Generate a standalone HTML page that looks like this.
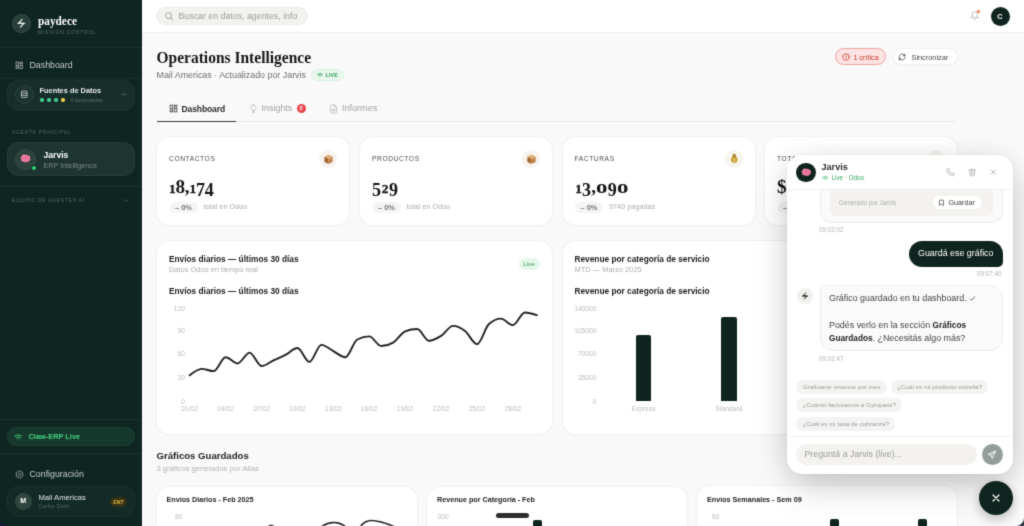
<!DOCTYPE html>
<html lang="es">
<head>
<meta charset="utf-8">
<title>Operations Intelligence</title>
<style>
*{box-sizing:border-box;margin:0;padding:0}
html,body{width:1024px;height:526px;overflow:hidden;background:#f9f9f9;font-family:"Liberation Sans",sans-serif;color:#1a1a1a}
.abs,#app div,#app svg,#app span{position:absolute}
#app{position:relative;width:1024px;height:526px;overflow:hidden}
#app #blur{left:-8px;top:-8px;width:1040px;height:542px;filter:url(#soft);background:#f9f9f9}
#app #in{left:8px;top:8px;width:1024px;height:526px}
.t{white-space:nowrap}
/* sidebar */
#side{left:-8px;top:-8px;width:150px;height:542px;background:#0f2521}
.hr{left:-8px;width:150px;height:1px;background:#1a302b}
.nav{font-size:8.8px;color:#c3cbc8;line-height:11px;white-space:nowrap}
.sec{left:12px;font-size:5px;letter-spacing:0.7px;color:#55675f;white-space:nowrap;line-height:6px}
/* cards */
.card{background:#fff;border-radius:13px;box-shadow:0 0 0 1px #f1f1f1,0 1px 3px rgba(0,0,0,.04)}
.lbl{font-size:6.7px;letter-spacing:0.56px;color:#4d4d4d;white-space:nowrap;line-height:8px}
.num{font-family:"Liberation Serif",serif;font-weight:bold;font-size:19.2px;color:#141414;line-height:20px;white-space:nowrap}
#app .num span{position:relative;line-height:1px}
.num .s{font-size:13.3px;-webkit-text-stroke:.3px #141414}
.num .o{font-size:19px;display:inline-block;transform:scaleX(1.2);margin:0 1px}
.num .d{font-size:18px;top:2.9px}
.num .c{font-size:19px}
.bdg{height:11px;border-radius:6px;background:#f4f4f4;font-size:7.5px;font-weight:bold;color:#787878;line-height:11px;text-align:center;white-space:nowrap}
.mut{font-size:7.3px;color:#adadad;white-space:nowrap;line-height:8px}
.ico{width:18px;height:18px;border-radius:50%;background:#f7f3ef}
.ct{font-size:8.3px;font-weight:bold;color:#1c1c1c;white-space:nowrap;line-height:10px}
.ax{font-size:6.7px;color:#bcbcbc;white-space:nowrap;line-height:7px}
.axr{text-align:right;width:30px}
.axc{text-align:center;width:40px}
.chip{height:14px;border-radius:7px;background:#f3f3f1;font-size:6.25px;color:#9c9c9c;line-height:14px;text-align:center;white-space:nowrap}
.ts{font-size:6.3px;color:#b4b4b4;white-space:nowrap;line-height:7px}
</style>
</head>
<body>
<svg width="0" height="0" style="position:absolute"><defs><filter id="soft" x="0" y="0" width="100%" height="100%" color-interpolation-filters="sRGB"><feConvolveMatrix order="3" kernelMatrix="0.01917 0.10012 0.01917 0.10012 0.52283 0.10012 0.01917 0.10012 0.01917" edgeMode="duplicate" preserveAlpha="true"/></filter></defs></svg>
<div id="app">
<div id="blur">
<div id="in">

<!-- ================= MAIN BG ================= -->
<div style="left:142px;top:33px;width:890px;height:501px;background:#f9f9f9"></div>

<!-- ================= TOPBAR ================= -->
<div style="left:142px;top:-8px;width:890px;height:40.500px;background:#fff;border-bottom:1px solid #efefef"></div>
<div style="left:156px;top:7px;width:152px;height:18px;border-radius:9px;background:#f2f2f0;border:1px solid #ececea"></div>
<svg style="left:163.500px;top:11px" width="10" height="10" viewBox="0 0 24 24" fill="none" stroke="#b0b0ae" stroke-width="2.6" stroke-linecap="round"><circle cx="11" cy="11" r="7"/><path d="M21 21l-4.5-4.5"/></svg>
<div class="t" style="left:178.5px;top:10.5px;font-size:8.8px;color:#9c9c9a;line-height:11px">Buscar en datos, agentes, info</div>
<svg style="left:969.500px;top:11px" width="9.500" height="9.500" viewBox="0 0 24 24" fill="none" stroke="#a3a3a3" stroke-width="1.8" stroke-linecap="round" stroke-linejoin="round"><path d="M6 8a6 6 0 0 1 12 0c0 7 3 9 3 9H3s3-2 3-9"/><path d="M10.3 21a1.9 1.9 0 0 0 3.4 0"/></svg>
<div style="left:976.500px;top:9.500px;width:3.500px;height:3.500px;border-radius:50%;background:#f0703a"></div>
<div style="left:990.5px;top:6.5px;width:19px;height:19px;border-radius:50%;background:#10241f;color:#fff;font-size:7.4px;font-weight:bold;text-align:center;line-height:19px">C</div>

<!-- ================= HEADER ================= -->
<div class="t" style="left:156.5px;top:47.7px;font-family:'Liberation Serif',serif;font-weight:bold;font-size:15.5px;line-height:20px;color:#151515;transform-origin:0 80%;transform:scaleY(1.08)">Operations Intelligence</div>
<div class="t" style="left:156.5px;top:69.5px;font-size:8.9px;line-height:11px;color:#707070">Mail Americas · Actualizado por Jarvis</div>
<div style="left:311px;top:69px;width:33px;height:12px;border-radius:6px;background:#e9f8ee;border:1px solid #dcf2e3"></div>
<svg style="left:316.5px;top:72px" width="6" height="6" viewBox="0 0 24 24" fill="none" stroke="#2d9a57" stroke-width="3.2" stroke-linecap="round"><path d="M2 9a15 15 0 0 1 20 0"/><path d="M6 13.5a9 9 0 0 1 12 0"/><path d="M12 19h.01"/></svg>
<div class="t" style="left:325.5px;top:71.8px;font-size:5.4px;font-weight:bold;color:#2d9a57;line-height:7px;letter-spacing:0.1px">LIVE</div>

<!-- header buttons -->
<div style="left:835px;top:48.2px;width:51px;height:17.3px;border-radius:8.5px;background:#fde3e3;border:1px solid #eda3a3"></div>
<svg style="left:841.5px;top:53px" width="8" height="8" viewBox="0 0 24 24" fill="none" stroke="#c4453c" stroke-width="2.4" stroke-linecap="round"><circle cx="12" cy="12" r="10"/><path d="M12 7v6"/><path d="M12 17h.01"/></svg>
<div class="t" style="left:853.5px;top:52.5px;font-size:7.2px;color:#c0392b;line-height:9px">1 crítica</div>
<div style="left:893px;top:48.2px;width:64.5px;height:17.3px;border-radius:8.5px;background:#fff;border:1px solid #f0f0f0;box-shadow:0 1px 2px rgba(0,0,0,.03)"></div>
<svg style="left:898px;top:53px" width="8" height="8" viewBox="0 0 24 24" fill="none" stroke="#555" stroke-width="2.4" stroke-linecap="round" stroke-linejoin="round"><path d="M3 12a9 9 0 0 1 15-6.7L21 8"/><path d="M21 3v5h-5"/><path d="M21 12a9 9 0 0 1-15 6.7L3 16"/><path d="M3 21v-5h5"/></svg>
<div class="t" style="left:911.5px;top:52.5px;font-size:7.35px;color:#4a4a4a;line-height:9px">Sincronizar</div>

<!-- ================= TABS ================= -->
<div style="left:156.5px;top:121px;width:800.5px;height:1px;background:#ebebeb"></div>
<div style="left:156.5px;top:120.700px;width:79.5px;height:1.200px;background:#3a3a3a"></div>
<svg style="left:168.5px;top:104px" width="9" height="9" viewBox="0 0 24 24" fill="none" stroke="#333" stroke-width="2" stroke-linejoin="miter"><rect x="3" y="3" width="7" height="9"/><rect x="14" y="3" width="7" height="5"/><rect x="14" y="12" width="7" height="9"/><rect x="3" y="16" width="7" height="5"/></svg>
<div class="t" style="left:181.5px;top:103.5px;font-size:8.5px;color:#2a2a2a;line-height:11px;font-weight:bold;letter-spacing:-0.1px">Dashboard</div>
<svg style="left:248.5px;top:103.5px" width="9" height="10" viewBox="0 0 24 26" fill="none" stroke="#b5b5b5" stroke-width="2" stroke-linecap="round" stroke-linejoin="round"><path d="M9 18h6"/><path d="M10 22h4"/><path d="M12 2a7 7 0 0 0-4 12.7c.6.5 1 1.300 1 2.300h6c0-1 .4-1.800 1-2.300A7 7 0 0 0 12 2z"/></svg>
<div class="t" style="left:261.5px;top:103px;font-size:8.95px;color:#a3a3a3;line-height:11px">Insights</div>
<div style="left:296.500px;top:104px;width:9px;height:9px;border-radius:50%;background:#e5484d;color:#fff;font-size:5.5px;font-weight:bold;line-height:9px;text-align:center">2</div>
<svg style="left:329px;top:103.5px" width="9" height="10" viewBox="0 0 24 26" fill="none" stroke="#b5b5b5" stroke-width="2" stroke-linecap="round" stroke-linejoin="round"><path d="M14 2H6a2 2 0 0 0-2 2v18a2 2 0 0 0 2 2h12a2 2 0 0 0 2-2V8z"/><path d="M14 2v6h6"/><path d="M8 14h8"/><path d="M8 18h8"/></svg>
<div class="t" style="left:342px;top:103px;font-size:9.050px;color:#a3a3a3;line-height:11px">Informes</div>

<!-- ================= KPI CARDS ================= -->
<div class="card" style="left:157px;top:137px;width:192px;height:88px"></div>
<div class="lbl" style="left:169px;top:154.5px">CONTACTOS</div>
<div class="ico" style="left:319px;top:149.5px"></div>
<svg style="left:323.5px;top:153.5px" width="9" height="10.500" viewBox="0 0 10 11"><path d="M5 .4L9.600 2.800 5 5.200.4 2.800z" fill="#d9a565"/><path d="M.4 2.800L5 5.200V10.700L.4 8.300z" fill="#a3652b"/><path d="M9.600 2.800L5 5.200V10.700L9.600 8.300z" fill="#c08040"/><path d="M2.600 1.600L7.200 4v1.800" stroke="#e9c99b" stroke-width=".7" fill="none"/></svg>
<div class="num" style="left:169px;top:177px;letter-spacing:-0.2px"><span class="s">1</span><span class="t">8</span><span class="c">,</span><span class="s">1</span><span class="d">7</span><span class="d">4</span></div>
<div class="bdg" style="left:169.5px;top:201.5px;width:28px">– 0%</div>
<div class="mut" style="left:203.5px;top:203px">total en Odoo</div>

<div class="card" style="left:360px;top:137px;width:192px;height:88px"></div>
<div class="lbl" style="left:372px;top:154.5px">PRODUCTOS</div>
<div class="ico" style="left:522px;top:149.5px"></div>
<svg style="left:526.5px;top:153.5px" width="9" height="10.500" viewBox="0 0 10 11"><path d="M5 .4L9.600 2.800 5 5.200.4 2.800z" fill="#d9a565"/><path d="M.4 2.800L5 5.200V10.700L.4 8.300z" fill="#a3652b"/><path d="M9.600 2.800L5 5.200V10.700L9.600 8.300z" fill="#c08040"/><path d="M2.600 1.600L7.200 4v1.800" stroke="#e9c99b" stroke-width=".7" fill="none"/></svg>
<div class="num" style="left:372px;top:177px;letter-spacing:0.7px"><span class="d">5</span><span class="s">2</span><span class="d">9</span></div>
<div class="bdg" style="left:372.5px;top:201.5px;width:28px">– 0%</div>
<div class="mut" style="left:406.5px;top:203px">total en Odoo</div>

<div class="card" style="left:562.5px;top:137px;width:192px;height:88px"></div>
<div class="lbl" style="left:574.5px;top:154.5px">FACTURAS</div>
<div class="ico" style="left:724.5px;top:149.5px;background:#f7f5ee"></div>
<svg style="left:729.5px;top:153.3px" width="8.500" height="10.500" viewBox="0 0 10 12"><path d="M3 4C.2 6 .2 11.500 5 11.500S9.800 6 7 4z" fill="#c8a034"/><path d="M3.200 1h3.600L6.300 3.600H3.700z" fill="#a98524"/><path d="M2.800 3.600h4.400v1H2.800z" fill="#8a6a18"/><path d="M5 5.800v4M6 6.800c-.8-.6-2-.3-2 .5s2 .6 2 1.500-1.300 1-2.100.4" stroke="#f3e3a3" stroke-width=".6" fill="none"/></svg>
<div class="num" style="left:575.3px;top:177px;letter-spacing:0.15px"><span class="s">1</span><span class="d">3</span><span class="c">,</span><span class="o">o</span><span class="d">9</span><span class="o">o</span></div>
<div class="bdg" style="left:575px;top:201.5px;width:28px">– 0%</div>
<div class="mut" style="left:609px;top:203px">9740 pagadas</div>

<div class="card" style="left:765px;top:137px;width:192px;height:88px"></div>
<div class="lbl" style="left:777px;top:154.5px">TOTAL FACTURADO</div>
<div class="ico" style="left:927px;top:149.5px;background:#f3f4ee"></div>
<div class="num" style="left:777px;top:177px;letter-spacing:0px"><span class="t">$</span></div>
<div class="bdg" style="left:777.5px;top:201.5px;width:28px">– 0%</div>

<!-- ================= LINE CHART CARD ================= -->
<div class="card" style="left:157px;top:240.5px;width:395px;height:193px"></div>
<div class="ct" style="left:169px;top:253.5px">Envíos diarios — últimos 30 días</div>
<div class="mut" style="left:169px;top:266px;font-size:7.45px">Datos Odoo en tiempo real</div>
<div style="left:518.5px;top:258px;width:21px;height:11.5px;border-radius:6px;background:#e4f8ea"></div>
<div class="t" style="left:523.300px;top:260.300px;font-size:6.2px;color:#2f9e5a;line-height:7px">Live</div>
<div class="ct" style="left:169px;top:285.5px">Envíos diarios — últimos 30 días</div>
<div class="ax axr" style="left:155px;top:304.5px">120</div>
<div class="ax axr" style="left:155px;top:327px">90</div>
<div class="ax axr" style="left:155px;top:350px">60</div>
<div class="ax axr" style="left:155px;top:374px">30</div>
<div class="ax axr" style="left:155px;top:397.5px">0</div>
<svg style="left:0;top:0" width="1024" height="526" viewBox="0 0 1024 526" fill="none"><path d="M189.70,375.33C193.69,372.09 197.68,368.85 201.67,368.85C205.66,368.85 209.65,371.16 213.64,371.16C217.63,371.16 221.62,357.27 225.61,357.27C229.60,357.27 233.59,363.44 237.58,363.44C241.57,363.44 245.56,352.64 249.55,352.64C253.54,352.64 257.53,366.07 261.52,366.07C265.51,366.07 269.50,362.21 273.49,360.36C277.48,358.50 281.47,357.01 285.46,354.95C289.45,352.89 293.44,348.00 297.43,348.00C301.42,348.00 305.41,361.90 309.40,361.90C313.39,361.90 317.38,344.92 321.37,344.92C325.36,344.92 329.35,349.03 333.34,351.09C337.33,353.15 341.32,357.27 345.31,357.27C349.30,357.27 353.29,341.57 357.28,339.51C361.27,337.45 365.26,336.42 369.25,336.42C373.24,336.42 377.23,346.07 381.22,346.07C385.21,346.07 389.20,344.92 393.19,342.60C397.18,340.28 401.17,332.87 405.16,331.33C409.15,329.78 413.14,329.01 417.13,329.01C421.12,329.01 425.11,340.82 429.10,340.82C433.09,340.82 437.08,338.37 441.07,335.88C445.06,333.40 449.05,325.92 453.04,325.92C457.03,325.92 461.02,327.98 465.01,331.02C469.00,334.06 472.99,344.14 476.98,344.14C480.97,344.14 484.96,327.67 488.95,324.07C492.94,320.47 496.93,318.67 500.92,318.67C504.91,318.67 508.90,325.15 512.89,325.15C516.88,325.15 520.87,312.49 524.86,312.49C528.85,312.49 532.84,313.84 536.83,315.19" stroke="#1e2120" stroke-width="1.9" stroke-linecap="round" stroke-linejoin="round"/></svg>
<div class="ax axc" style="left:169.7px;top:405px">01/02</div>
<div class="ax axc" style="left:205.6px;top:405px">04/02</div>
<div class="ax axc" style="left:241.5px;top:405px">07/02</div>
<div class="ax axc" style="left:277.4px;top:405px">10/02</div>
<div class="ax axc" style="left:313.3px;top:405px">13/02</div>
<div class="ax axc" style="left:349.2px;top:405px">16/02</div>
<div class="ax axc" style="left:385.2px;top:405px">19/02</div>
<div class="ax axc" style="left:421.1px;top:405px">22/02</div>
<div class="ax axc" style="left:457.0px;top:405px">25/02</div>
<div class="ax axc" style="left:492.9px;top:405px">28/02</div>


<!-- ================= BAR CHART CARD ================= -->
<div class="card" style="left:562.5px;top:240.5px;width:394.5px;height:193px"></div>
<div class="ct" style="left:574.5px;top:253.5px">Revenue por categoría de servicio</div>
<div class="mut" style="left:574.5px;top:266px;font-size:7.45px">MTD — Marzo 2025</div>
<div class="ct" style="left:574.5px;top:285.5px">Revenue por categoría de servicio</div>
<div class="ax axr" style="left:566.5px;top:304.5px">140000</div>
<div class="ax axr" style="left:566.5px;top:326.5px">105000</div>
<div class="ax axr" style="left:566.5px;top:350px">70000</div>
<div class="ax axr" style="left:566.5px;top:374px">35000</div>
<div class="ax axr" style="left:566.5px;top:398px">0</div>
<div style="left:636px;top:334.5px;width:15px;height:66.5px;background:#10241f;border-radius:2px 2px 0 0"></div>
<div style="left:721px;top:316.5px;width:15.5px;height:84.5px;background:#10241f;border-radius:2px 2px 0 0"></div>
<div style="left:806px;top:352px;width:15.5px;height:49px;background:#10241f;border-radius:2px 2px 0 0"></div>
<div style="left:891px;top:366px;width:15.5px;height:35px;background:#10241f;border-radius:2px 2px 0 0"></div>
<div class="ax axc" style="left:623.5px;top:405px">Express</div>
<div class="ax axc" style="left:708.8px;top:405px">Standard</div>

<!-- ================= SAVED CHARTS ================= -->
<div class="t" style="left:156.5px;top:449.5px;font-size:9.6px;font-weight:bold;color:#1f1f1f;line-height:12px">Gráficos Guardados</div>
<div class="t" style="left:156.5px;top:464.5px;font-size:7.6px;color:#b4b4b4;line-height:8px">3 gráficos generados por Atlas</div>

<div class="card" style="left:157px;top:486.5px;width:259.5px;height:60px"></div>
<div class="t" style="left:166.5px;top:495px;font-size:7.2px;font-weight:bold;color:#222;line-height:9px">Envíos Diarios - Feb 2025</div>
<div class="ax" style="left:175px;top:513px">80</div>
<svg style="left:0;top:0" width="1024" height="526" viewBox="0 0 1024 526" fill="none" stroke="#1c1f1e" stroke-width="1.7" stroke-linecap="round"><path d="M268,527C269,526 270,525.500 271,525.500C272,525.500 273,526 274,527"/><path d="M321,527C325,524 329,522.500 334,522.500C339,522.500 343,524.500 346,527"/><path d="M360,527C363,523 367,520.500 371,520.500C378,520.500 388,524 395,527"/></svg>

<div class="card" style="left:427.3px;top:486.5px;width:259.5px;height:60px"></div>
<div class="t" style="left:437px;top:495px;font-size:7.2px;font-weight:bold;color:#222;line-height:9px">Revenue por Categoría - Feb</div>
<div class="ax" style="left:437.500px;top:513px">000</div>
<div style="left:495.5px;top:512.5px;width:33px;height:5px;border-radius:2.5px;background:#2b2d2c"></div>
<div style="left:533px;top:520px;width:8.5px;height:10px;background:#10241f;border-radius:2px 2px 0 0"></div>

<div class="card" style="left:697.3px;top:486px;width:260px;height:60px"></div>
<div class="t" style="left:707px;top:495px;font-size:7.2px;font-weight:bold;color:#222;line-height:9px">Envíos Semanales - Sem 09</div>
<div class="ax" style="left:712px;top:513px">60</div>
<div style="left:830.3px;top:519px;width:9px;height:10px;background:#10241f;border-radius:2px 2px 0 0"></div>
<div style="left:918.3px;top:519px;width:9px;height:10px;background:#10241f;border-radius:2px 2px 0 0"></div>

<!-- ================= SIDEBAR ================= -->
<div id="side"></div>
<div style="left:137.500px;top:-8px;width:1px;height:542px;background:#122b26"></div>
<div style="left:11.5px;top:13.5px;width:19.5px;height:19.5px;border-radius:50%;background:#273d38;border:1px solid #384e49"></div>
<svg style="left:16px;top:18px" width="10.500" height="10.500" viewBox="0 0 24 24" fill="none" stroke="#e9eeec" stroke-width="2.6" stroke-linecap="round" stroke-linejoin="round"><path d="M14 3L6 12h6"/><path d="M10 21l8-9h-6"/><path d="M4 12h16"/></svg>
<div class="t" style="left:38px;top:13.800px;font-family:'Liberation Serif',serif;font-weight:bold;font-size:11.3px;color:#fff;line-height:14px;transform-origin:0 85%;transform:scaleY(1.16)">paydece</div>
<div class="t" style="left:38px;top:29px;font-size:5.1px;letter-spacing:0.72px;color:#596b66;line-height:6px">MISSION CONTROL</div>
<div class="hr" style="top:47px"></div>
<svg style="left:15px;top:61px" width="8.500" height="8.500" viewBox="0 0 24 24" fill="none" stroke="#b8c1be" stroke-width="2" stroke-linejoin="miter"><rect x="3" y="3" width="7" height="9"/><rect x="14" y="3" width="7" height="5"/><rect x="14" y="12" width="7" height="9"/><rect x="3" y="16" width="7" height="5"/></svg>
<div class="nav" style="left:29.5px;top:59.800px">Dashboard</div>
<div class="hr" style="top:77.5px"></div>

<div style="left:7px;top:79.5px;width:128px;height:31px;border-radius:12px;background:#182e2a;border:1px solid #21373280"></div>
<div style="left:15px;top:85px;width:18.5px;height:18.5px;border-radius:50%;background:#21373280;border:1px solid #2b413c"></div>
<svg style="left:20px;top:90px" width="8.500" height="8.500" viewBox="0 0 24 24" fill="none" stroke="#d3dad8" stroke-width="2.2" stroke-linejoin="round"><rect x="4" y="3" width="16" height="18" rx="2"/><path d="M4 9h16M4 15h16"/></svg>
<div class="t" style="left:39.5px;top:85.600px;font-size:7.4px;color:#e6eae9;line-height:10px;font-weight:bold">Fuentes de Datos</div>
<div style="left:40px;top:98.300px;width:3.500px;height:3.500px;border-radius:50%;background:#3fcf8e"></div>
<div style="left:47px;top:98.300px;width:3.500px;height:3.500px;border-radius:50%;background:#3fcf8e"></div>
<div style="left:54px;top:98.300px;width:3.500px;height:3.500px;border-radius:50%;background:#3fcf8e"></div>
<div style="left:61px;top:98.300px;width:3.500px;height:3.500px;border-radius:50%;background:#f0d050"></div>
<div class="t" style="left:70px;top:97px;font-size:5.5px;color:#5c6e69;line-height:6px">4 conectadas</div>
<svg style="left:119.5px;top:91px" width="7" height="7" viewBox="0 0 24 24" fill="none" stroke="#4d5f5a" stroke-width="2.4" stroke-linecap="round" stroke-linejoin="round"><path d="M4 12h16"/><path d="M13 5l7 7-7 7"/></svg>

<div class="sec" style="top:128.700px">AGENTE PRINCIPAL</div>
<div style="left:7px;top:141.5px;width:128px;height:34.5px;border-radius:11.500px;background:#1e3430;border:1px solid #283e3a"></div>
<div style="left:15px;top:148.500px;width:21px;height:21px;border-radius:50%;background:#2c423d;border:1px solid #364c47"></div>
<svg style="left:20px;top:154px" width="11" height="9.17" viewBox="0 0 12 10"><path d="M6 1.200C4.600 0 2.300.6 2.100 2.400.6 2.900.3 4.900 1.400 5.900 1.200 7.600 2.800 8.700 4.200 8.300c.6 1 1.800 1.100 2.400.4 1 .6 2.600.2 3-1 1.400-.2 2.200-1.800 1.400-3 .6-1.400-.4-3-2-3C8.400.7 6.800.4 6 1.200z" fill="#ef7fa3"/><path d="M6 1.500v6.800M3.400 3.200c.8-.2 1.500.2 1.700.9M2.600 6c.8.300 1.700 0 2-.7M8.600 3.200c-.8-.2-1.500.2-1.700.9M9.400 6c-.8.300-1.700 0-2-.7" stroke="#d4567f" stroke-width=".55" fill="none" stroke-linecap="round"/><path d="M3 1.800C3.800 1.200 5 1.200 5.500 1.700" stroke="#f9b6cb" stroke-width=".6" fill="none" stroke-linecap="round"/></svg>
<div style="left:31.300px;top:165.200px;width:6px;height:6px;border-radius:50%;background:#34d37c;border:1.2px solid #0f2521"></div>
<div class="t" style="left:43.5px;top:148.500px;font-size:8.6px;font-weight:bold;color:#fff;line-height:12px">Jarvis</div>
<div class="t" style="left:43.5px;top:160.500px;font-size:7.25px;color:#7b8a86;line-height:9px">ERP Intelligence</div>
<div class="hr" style="top:185.5px"></div>
<div class="sec" style="top:196.5px">EQUIPO DE AGENTES AI</div>
<svg style="left:123px;top:196.500px" width="7" height="7" viewBox="0 0 24 24" fill="none" stroke="#4d5f5a" stroke-width="2.6" stroke-linecap="round" stroke-linejoin="round"><path d="M6 9l6 6 6-6"/></svg>

<div class="hr" style="top:419px"></div>
<div style="left:7px;top:427px;width:127.500px;height:19px;border-radius:9.500px;background:#16382c;border:1px solid #1b4233"></div>
<svg style="left:14px;top:432.500px" width="8.500" height="8.500" viewBox="0 0 24 24" fill="none" stroke="#3fd07f" stroke-width="2.8" stroke-linecap="round"><path d="M2 9a15 15 0 0 1 20 0"/><path d="M6 13.5a9 9 0 0 1 12 0"/><path d="M12 19h.01"/></svg>
<div class="t" style="left:28.500px;top:432px;font-size:7.4px;font-weight:bold;color:#45d383;line-height:9px">Claw-ERP Live</div>
<div class="hr" style="top:453px"></div>
<svg style="left:14.500px;top:469.500px" width="9" height="9" viewBox="0 0 24 24" fill="none" stroke="#9aa6a2" stroke-width="2.200" stroke-linejoin="round"><path d="M12 2l8.500 5v10L12 22l-8.500-5V7z"/><circle cx="12" cy="12" r="3.200"/></svg>
<div class="nav" style="left:29.5px;top:468.500px">Configuración</div>
<div style="left:7px;top:485.5px;width:128px;height:31.5px;border-radius:12px;background:#132a26;border:1px solid #1b322d"></div>
<div style="left:15px;top:493px;width:16.500px;height:16.500px;border-radius:50%;background:#31453f"></div>
<div class="t" style="left:15px;top:493px;width:16.500px;text-align:center;font-size:7.2px;font-weight:bold;color:#fff;line-height:16.500px">M</div>
<div class="t" style="left:38.500px;top:492.5px;font-size:7.6px;color:#dfe5e3;line-height:9px">Mail Americas</div>
<div class="t" style="left:38.500px;top:503px;font-size:5.7px;color:#53645f;line-height:7px">Carlos Diehl</div>
<div style="left:110px;top:496.500px;width:17px;height:10.500px;border-radius:5px;background:#363117"></div>
<div class="t" style="left:110px;top:496.500px;width:17px;text-align:center;font-size:5.2px;font-weight:bold;color:#e0b93d;line-height:10.500px">ENT</div>

<!-- ================= CHAT PANEL ================= -->
<div style="left:787px;top:155px;width:225.5px;height:319px;border-radius:15px;background:#fff;box-shadow:0 14px 40px -5px rgba(0,0,0,.2),0 4px 28px rgba(0,0,0,.09),0 0 0 1px rgba(0,0,0,.025);overflow:hidden" id="chat"></div>
<!-- header -->
<div style="left:787.5px;top:189px;width:225px;height:1px;background:#f0f0f0"></div>
<div style="left:796px;top:162.500px;width:19.500px;height:19.500px;border-radius:50%;background:#10241f"></div>
<svg style="left:800.5px;top:167.5px" width="10.5" height="8.75" viewBox="0 0 12 10"><path d="M6 1.200C4.600 0 2.300.6 2.100 2.400.6 2.900.3 4.900 1.400 5.900 1.200 7.600 2.800 8.700 4.200 8.300c.6 1 1.800 1.100 2.400.4 1 .6 2.600.2 3-1 1.400-.2 2.200-1.800 1.400-3 .6-1.400-.4-3-2-3C8.400.7 6.800.4 6 1.200z" fill="#ef7fa3"/><path d="M6 1.500v6.800M3.400 3.200c.8-.2 1.500.2 1.700.9M2.600 6c.8.300 1.700 0 2-.7M8.600 3.200c-.8-.2-1.500.2-1.700.9M9.400 6c-.8.300-1.700 0-2-.7" stroke="#d4567f" stroke-width=".55" fill="none" stroke-linecap="round"/><path d="M3 1.800C3.800 1.200 5 1.200 5.500 1.700" stroke="#f9b6cb" stroke-width=".6" fill="none" stroke-linecap="round"/></svg>
<div class="t" style="left:821.5px;top:161px;font-size:9.1px;font-weight:bold;color:#2a2a2a;line-height:12px">Jarvis</div>
<svg style="left:822px;top:174.500px" width="6.500" height="6.500" viewBox="0 0 24 24" fill="none" stroke="#36b36a" stroke-width="2.8" stroke-linecap="round"><path d="M2 9a15 15 0 0 1 20 0"/><path d="M6 13.5a9 9 0 0 1 12 0"/><path d="M12 19h.01"/></svg>
<div class="t" style="left:831.5px;top:174px;font-size:6.3px;color:#36a964;line-height:8px">Live · Odoo</div>
<svg style="left:946px;top:168px" width="8.500" height="8.500" viewBox="0 0 24 24" fill="none" stroke="#9c9c9c" stroke-width="1.800" stroke-linecap="round" stroke-linejoin="round"><path d="M22 16.900v3a2 2 0 0 1-2.200 2 19.800 19.800 0 0 1-8.600-3.100 19.500 19.500 0 0 1-6-6A19.800 19.800 0 0 1 2.100 4.200 2 2 0 0 1 4.100 2h3a2 2 0 0 1 2 1.700c.1 1 .4 1.900.7 2.800a2 2 0 0 1-.5 2.100L8.100 9.900a16 16 0 0 0 6 6l1.300-1.300a2 2 0 0 1 2.100-.4c.9.300 1.800.6 2.800.7a2 2 0 0 1 1.700 2z"/></svg>
<svg style="left:967.500px;top:168px" width="8.500" height="8.500" viewBox="0 0 24 24" fill="none" stroke="#9c9c9c" stroke-width="1.800" stroke-linecap="round" stroke-linejoin="round"><path d="M3 6h18"/><path d="M19 6l-1 14a2 2 0 0 1-2 2H8a2 2 0 0 1-2-2L5 6"/><path d="M9 6V4a1 1 0 0 1 1-1h4a1 1 0 0 1 1 1v2"/><path d="M10 11v6M14 11v6"/></svg>
<svg style="left:989px;top:168px" width="8.500" height="8.500" viewBox="0 0 24 24" fill="none" stroke="#9c9c9c" stroke-width="2" stroke-linecap="round"><path d="M6 6l12 12M18 6L6 18"/></svg>

<!-- previous message card (clipped) -->
<div style="left:820px;top:190px;width:182.500px;height:32.500px;border-radius:0 0 12px 12px;background:#fafafa;border:1px solid #ececec;border-top:none"></div>
<div style="left:830px;top:190px;width:162.500px;height:25.500px;border-radius:0 0 6px 6px;background:#f3f2ee"></div>
<div class="t" style="left:839px;top:198.500px;font-size:6.3px;color:#acaca9;line-height:7px">Generado por Jarvis</div>
<div style="left:932.500px;top:195.500px;width:49px;height:13.500px;border-radius:7px;background:#fff"></div>
<svg style="left:938px;top:198.500px" width="7" height="7.500" viewBox="0 0 24 24" fill="none" stroke="#444" stroke-width="2.400" stroke-linejoin="round"><path d="M6 3h12a1 1 0 0 1 1 1v17l-7-4-7 4V4a1 1 0 0 1 1-1z"/></svg>
<div class="t" style="left:948.5px;top:198px;font-size:7.2px;color:#444;line-height:9px">Guardar</div>
<div class="ts" style="left:819px;top:226px">09:02:02</div>

<!-- user bubble -->
<div style="left:908.500px;top:241px;width:94.500px;height:25.500px;border-radius:13px 13px 5px 13px;background:#10241f"></div>
<div class="t" style="left:918px;top:248px;font-size:8.9px;color:#fff;line-height:11px">Guardá ese gráfico</div>
<div class="ts" style="left:977px;top:269.500px">09:07:40</div>

<!-- bot message -->
<div style="left:796.500px;top:287.500px;width:16px;height:16px;border-radius:50%;background:#f1f0ed"></div>
<svg style="left:800.500px;top:291.500px" width="8" height="8" viewBox="0 0 24 24" fill="none" stroke="#222" stroke-width="2.800" stroke-linecap="round" stroke-linejoin="round"><path d="M14 3L6 12h6"/><path d="M10 21l8-9h-6"/><path d="M4 12h16"/></svg>
<div style="left:819.500px;top:285px;width:183.500px;height:66px;border-radius:5px 13px 13px 13px;background:#fafafa;border:1px solid #ededed"></div>
<div class="t" style="left:829px;top:292px;font-size:8.9px;color:#444;line-height:13.300px">Gráfico guardado en tu dashboard. <svg style="position:relative;display:inline-block;vertical-align:-0.5px" width="7" height="7" viewBox="0 0 24 24" fill="none" stroke="#555" stroke-width="3" stroke-linecap="round" stroke-linejoin="round"><path d="M4 13l5 5L20 6"/></svg><br><br>Podés verlo en la sección <b style="color:#222;font-size:8.25px">Gráficos</b><br><b style="color:#222;font-size:8.25px">Guardados</b>. ¿Necesitás algo más?</div>
<div class="ts" style="left:819px;top:355px">09:02:47</div>

<!-- chips -->
<div class="chip" style="left:796.200px;top:380px;width:91px">Graficame revenue por mes</div>
<div class="chip" style="left:891.300px;top:380px;width:96.500px">¿Cuál es mi producto estrella?</div>
<div class="chip" style="left:796.200px;top:398.400px;width:106px">¿Cuánto facturamos a Gympass?</div>
<div class="chip" style="left:796.200px;top:416.700px;width:99px">¿Cuál es mi tasa de cobranza?</div>

<!-- input -->
<div style="left:787.5px;top:436px;width:225px;height:1px;background:#f0f0f0"></div>
<div style="left:796.200px;top:444px;width:181px;height:20.500px;border-radius:10.300px;background:#f3f2ef"></div>
<div class="t" style="left:804.500px;top:448.800px;font-size:8.8px;color:#9b9b99;line-height:11px">Preguntá a Jarvis (live)...</div>
<div style="left:981.500px;top:443.800px;width:21px;height:21px;border-radius:50%;background:#939e9c"></div>
<svg style="left:987px;top:449.500px" width="9.500" height="9.500" viewBox="0 0 24 24" fill="none" stroke="#fff" stroke-width="2.200" stroke-linecap="round" stroke-linejoin="round"><path d="M21 3L3 10.500l7 3 3 7z"/><path d="M21 3L10 13.500"/></svg>

<!-- FAB -->
<div style="left:978.6px;top:481.200px;width:34px;height:34px;border-radius:50%;background:#10241f;box-shadow:0 4px 12px rgba(0,0,0,.25)"></div>
<svg style="left:989.500px;top:492px" width="12" height="12" viewBox="0 0 24 24" fill="none" stroke="#fff" stroke-width="2.400" stroke-linecap="round"><path d="M6 6l12 12M18 6L6 18"/></svg>

<!-- page corners -->
<svg style="left:0;top:519px" width="7" height="7" viewBox="0 0 6 6"><path d="M0 0A6 6 0 0 0 6 6H0z" fill="#1a1640"/></svg>
<svg style="left:1016px;top:518px" width="8" height="8" viewBox="0 0 8 8"><path d="M8 0A8 8 0 0 1 0 8H8z" fill="#141a2e"/></svg>

</div>
</div>
</div>
</body>
</html>
